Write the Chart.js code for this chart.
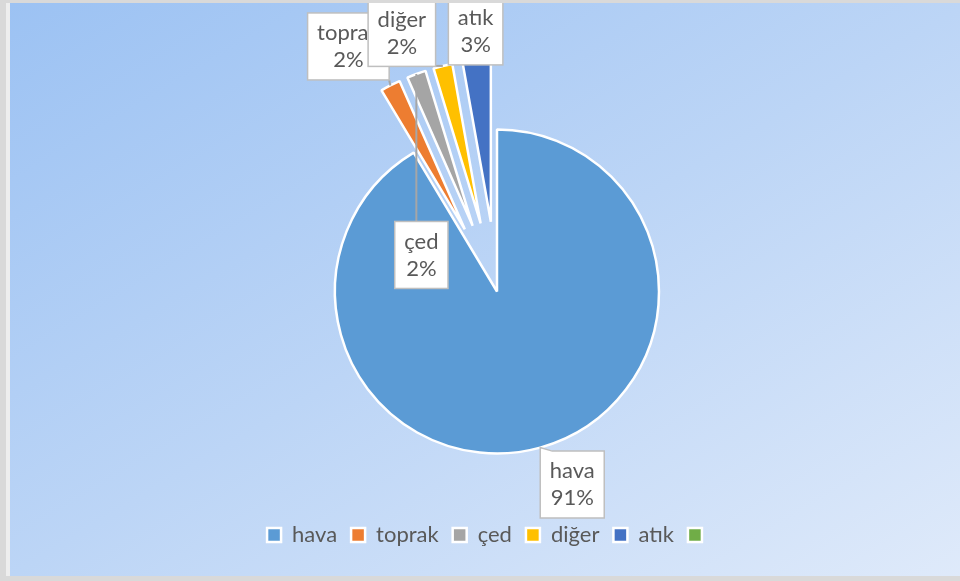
<!DOCTYPE html>
<html>
<head>
<meta charset="utf-8">
<script src="https://cdn.jsdelivr.net/npm/chart.js@4.4.1/dist/chart.umd.min.js"></script>
<style>
  html, body { margin: 0; padding: 0; background: #d9d9d9; overflow: hidden; }
  #panel {
    position: absolute; left: 6px; top: 3px; width: 960px; height: 573px;
    border-left: 4px solid #eeeeee;
    background: linear-gradient(to bottom right, #9cc2f3 0%, #bcd5f6 50%, #dfeafa 100%);
  }
  canvas { display: block; }
</style>
</head>
<body>
<div id="panel"><canvas id="myChart" width="960" height="573"></canvas></div>
<script>
const categories = ["hava", "toprak", "çed", "diğer", "atık", ""];
const shares = [91.4, 2.0, 1.9, 1.9, 2.8, 0];
const sliceColors = ["#5b9bd5", "#ed7d31", "#a5a5a5", "#ffc000", "#4472c4", "#70ad47"];
// how far each slice is pulled out of the pie, px
const explode = [0, 70, 70, 70, 70, 0];
// box centre of each data label, relative to the outer edge of its slice
const labelShift = [[32, 37], [-42, -39], [5, 181], [-41, -33], [-1, -29], [0, 0]];

// excel style explosion: move the whole slice out, keep its size
const explodeSlices = {
  id: "explodeSlices",
  afterDatasetsUpdate(chart) {
    chart.getDatasetMeta(0).data.forEach((arc, i) => {
      const mid = (arc.startAngle + arc.endAngle) / 2;
      arc.x += Math.cos(mid) * explode[i];
      arc.y += Math.sin(mid) * explode[i];
    });
  }
};

const calloutLabels = {
  id: "calloutLabels",
  afterDatasetsDraw(chart) {
    const ctx = chart.ctx;
    const arcs = chart.getDatasetMeta(0).data;
    const total = shares.reduce((a, b) => a + b, 0);
    ctx.save();
    ctx.font = "22px Lato";
    ctx.textAlign = "center";
    ctx.textBaseline = "middle";
    arcs.forEach((arc, i) => {
      if (!shares[i]) return;
      const mid = (arc.startAngle + arc.endAngle) / 2;
      const ax = arc.x + Math.cos(mid) * arc.outerRadius;
      const ay = arc.y + Math.sin(mid) * arc.outerRadius;
      const line1 = categories[i];
      const line2 = Math.round(shares[i] / total * 100) + "%";
      const w = Math.max(ctx.measureText(line1).width, ctx.measureText(line2).width) + 19;
      const h = 67;
      const cx = ax + labelShift[i][0];
      const cy = ay + labelShift[i][1];
      const bx = cx - w / 2, by = cy - h / 2;

      ctx.strokeStyle = "#bfbfbf";
      ctx.fillStyle = "#ffffff";
      ctx.lineWidth = 1.5;
      if (i === 0) {
        ctx.beginPath();
        ctx.moveTo(bx, by);
        ctx.lineTo(ax, ay);
        ctx.lineTo(bx + 12, by);
        ctx.lineTo(bx + w, by);
        ctx.lineTo(bx + w, by + h);
        ctx.lineTo(bx, by + h);
        ctx.closePath();
        ctx.fill();
        ctx.stroke();
      } else {
        const px = Math.min(Math.max(ax, bx), bx + w);
        const py = Math.min(Math.max(ay, by), by + h);
        if (Math.hypot(px - ax, py - ay) > 1) {
          ctx.beginPath();
          ctx.strokeStyle = "#a6a6a6";
          ctx.lineWidth = 2;
          ctx.moveTo(ax, ay);
          ctx.lineTo(px, py);
          ctx.stroke();
        }
        ctx.strokeStyle = "#bfbfbf";
        ctx.lineWidth = 1.5;
        ctx.fillRect(bx, by, w, h);
        ctx.strokeRect(bx, by, w, h);
      }
      ctx.fillStyle = "#595959";
      ctx.fillText(line1, cx, cy - 13.5);
      ctx.fillText(line2, cx, cy + 13.5);
    });
    ctx.restore();
  }
};

const ctx = document.getElementById("myChart").getContext("2d");
const myChart = new Chart(ctx, {
  type: "pie",
  data: {
    labels: categories,
    datasets: [
      {
        data: shares,
        backgroundColor: sliceColors,
        borderColor: "#ffffff",
        borderWidth: 2.5,
        radius: 162,
        clip: false,
      },
    ],
  },
  options: {
    responsive: false,
    animation: false,
    events: [],
    radius: 162,
    layout: { padding: { top: 70, bottom: 20, left: 0, right: 0 } },
    plugins: {
      tooltip: { enabled: false },
      // empty left title only nudges the pie to the right of the legend centre
      title: { display: true, text: "", position: "left", font: { size: 10 }, padding: 1 },
      legend: {
        position: "bottom",
        labels: {
          color: "#595959",
          font: { family: "Lato", size: 22 },
          boxWidth: 14,
          boxHeight: 14,
          padding: 14,
        },
      },
    },
  },
  plugins: [explodeSlices, calloutLabels],
});
</script>
</body>
</html>
